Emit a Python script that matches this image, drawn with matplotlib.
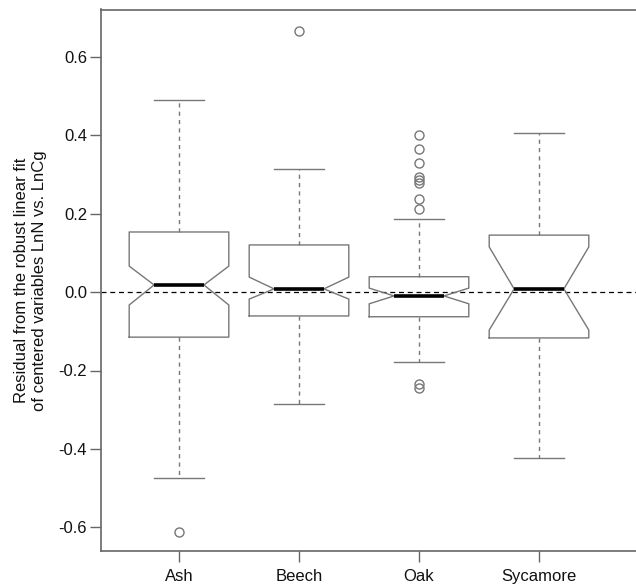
import matplotlib
matplotlib.use("Agg")
import matplotlib.pyplot as plt

plt.rcParams['font.family'] = ['Liberation Sans', 'DejaVu Sans']

categories = ["Ash", "Beech", "Oak", "Sycamore"]
medians = [0.018, 0.008, -0.010, 0.008]
q1 = [-0.115, -0.061, -0.063, -0.117]
q3 = [0.153, 0.120, 0.039, 0.145]
whisk_lo = [-0.474, -0.285, -0.178, -0.423]
whisk_hi = [0.489, 0.313, 0.186, 0.405]
notch_lo = [-0.033, -0.018, -0.030, -0.097]
notch_hi = [0.066, 0.038, 0.010, 0.115]
outliers = [
    [-0.611],
    [0.665],
    [0.400, 0.364, 0.328, 0.293, 0.285, 0.277, 0.236, 0.211, -0.235, -0.245],
    [],
]
yticks = [-0.6, -0.4, -0.2, 0.0, 0.2, 0.4, 0.6]

stats = []
for i, name in enumerate(categories):
    stats.append(dict(label=name, med=medians[i], q1=q1[i], q3=q3[i],
                      whislo=whisk_lo[i], whishi=whisk_hi[i],
                      cilo=notch_lo[i], cihi=notch_hi[i], fliers=outliers[i]))

fig = plt.figure(figsize=(6.36, 5.88), dpi=100)
ax = fig.add_axes([101/636, 37/588, 1 - 101/636, (551 - 9.5)/588])

gray = "#777777"
ax.axhline(0, color="black", lw=0.9, ls=(0, (4, 3)), zorder=1)
ax.bxp(stats, positions=[1, 2, 3, 4], widths=0.83, shownotches=True,
       boxprops=dict(color=gray, lw=1.0),
       whiskerprops=dict(color=gray, lw=1.0, ls=(0, (3, 3))),
       capprops=dict(color=gray, lw=1.0),
       medianprops=dict(color="black", lw=2.6, solid_capstyle="butt"),
       flierprops=dict(marker="o", markerfacecolor="none", markeredgecolor=gray,
                       markersize=6.5, markeredgewidth=1.0),
       patch_artist=False, manage_ticks=False)

ax.set_xlim(0.35, 0.35 + 535/120)
ax.set_ylim(-0.66, 0.72)
ax.set_xticks([1, 2, 3, 4])
ax.set_xticklabels(categories)
ax.set_yticks(yticks)
ax.set_yticklabels([f"{v:.1f}" for v in yticks])

for s in ["top", "left", "bottom"]:
    ax.spines[s].set_color("#666666")
    ax.spines[s].set_linewidth(1.2)
ax.spines["right"].set_visible(False)
ax.tick_params(axis="both", length=8, width=1.0, color="#666666",
               labelsize=12, labelcolor="#111111")
ax.tick_params(axis="x", pad=5)
ax.tick_params(axis="y", pad=2)

ax.set_ylabel("Residual from the robust linear fit\nof centered variables LnN vs. LnCg",
              fontsize=12, color="#111111", labelpad=8, linespacing=1.25)

fig.savefig("out.png", dpi=100)
